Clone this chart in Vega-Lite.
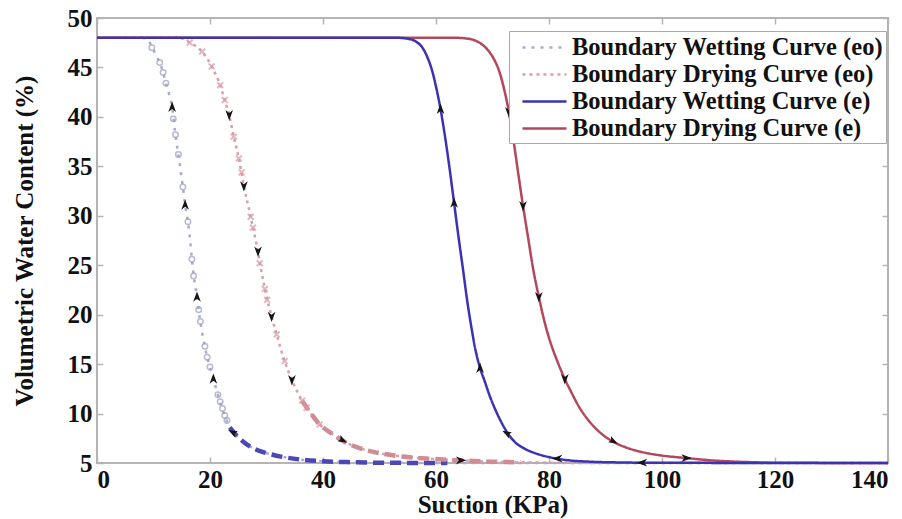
{
  "$schema": "https://vega.github.io/schema/vega-lite/v6.json",
  "width": 791,
  "height": 445,
  "autosize": {"type": "none"},
  "padding": {"left": 97, "top": 18, "right": 14, "bottom": 56},
  "background": "white",
  "config": {
    "view": {"stroke": "#b4b4b4", "strokeWidth": 2},
    "font": "Liberation Serif",
    "axis": {
      "labelFont": "Liberation Serif", "labelFontWeight": "bold", "labelFontSize": 25, "labelColor": "#111111",
      "titleFont": "Liberation Serif", "titleFontWeight": "bold", "titleFontSize": 25, "titleColor": "#111111",
      "grid": false, "domain": false, "tickColor": "#b4b4b4", "tickSize": -6, "tickWidth": 1.5
    },
    "legend": {
      "orient": "none", "legendX": 412, "legendY": 13, "title": null,
      "labelFont": "Liberation Serif", "labelFontWeight": "bold", "labelFontSize": 24.5, "labelColor": "#111111",
      "labelLimit": 600, "strokeColor": "#aaaaaa", "fillColor": "white", "padding": 3, "rowPadding": 2,
      "symbolType": "M-1.8,0H1.8", "symbolSize": 600, "symbolOffset": 19, "labelOffset": 14
    }
  },
  "datasets": {
    "curves": [
      {"series": "Boundary Wetting Curve (eo)", "x": 0, "y": 48},
      {"series": "Boundary Wetting Curve (eo)", "x": 8, "y": 48},
      {"series": "Boundary Wetting Curve (eo)", "x": 9, "y": 47.8},
      {"series": "Boundary Wetting Curve (eo)", "x": 9.7, "y": 47.1},
      {"series": "Boundary Wetting Curve (eo)", "x": 10.4, "y": 46.3},
      {"series": "Boundary Wetting Curve (eo)", "x": 11.1, "y": 45.5},
      {"series": "Boundary Wetting Curve (eo)", "x": 11.7, "y": 44.5},
      {"series": "Boundary Wetting Curve (eo)", "x": 12.2, "y": 43.4},
      {"series": "Boundary Wetting Curve (eo)", "x": 12.8, "y": 42.2},
      {"series": "Boundary Wetting Curve (eo)", "x": 13.3, "y": 41},
      {"series": "Boundary Wetting Curve (eo)", "x": 13.8, "y": 38.6},
      {"series": "Boundary Wetting Curve (eo)", "x": 14.3, "y": 36.5},
      {"series": "Boundary Wetting Curve (eo)", "x": 14.8, "y": 34.6},
      {"series": "Boundary Wetting Curve (eo)", "x": 15.2, "y": 32.9},
      {"series": "Boundary Wetting Curve (eo)", "x": 15.6, "y": 31.1},
      {"series": "Boundary Wetting Curve (eo)", "x": 16.1, "y": 29.4},
      {"series": "Boundary Wetting Curve (eo)", "x": 16.5, "y": 27.4},
      {"series": "Boundary Wetting Curve (eo)", "x": 16.8, "y": 25.6},
      {"series": "Boundary Wetting Curve (eo)", "x": 17.2, "y": 23.6},
      {"series": "Boundary Wetting Curve (eo)", "x": 17.7, "y": 21.8},
      {"series": "Boundary Wetting Curve (eo)", "x": 18.2, "y": 19.6},
      {"series": "Boundary Wetting Curve (eo)", "x": 18.7, "y": 17.9},
      {"series": "Boundary Wetting Curve (eo)", "x": 19.1, "y": 16.8},
      {"series": "Boundary Wetting Curve (eo)", "x": 19.5, "y": 15.7},
      {"series": "Boundary Wetting Curve (eo)", "x": 20, "y": 14.7},
      {"series": "Boundary Wetting Curve (eo)", "x": 20.6, "y": 13.5},
      {"series": "Boundary Wetting Curve (eo)", "x": 21.4, "y": 11.9},
      {"series": "Boundary Wetting Curve (eo)", "x": 22.1, "y": 10.6},
      {"series": "Boundary Wetting Curve (eo)", "x": 22.8, "y": 9.5},
      {"series": "Boundary Wetting Curve (eo)", "x": 23.5, "y": 8.6},
      {"series": "Boundary Wetting Curve (eo)", "x": 24.5, "y": 7.9},
      {"series": "Boundary Wetting Curve (eo)", "x": 26, "y": 7.1},
      {"series": "Boundary Wetting Curve (eo)", "x": 28, "y": 6.4},
      {"series": "Boundary Wetting Curve (eo)", "x": 30, "y": 6.0},
      {"series": "Boundary Wetting Curve (eo)", "x": 33, "y": 5.6},
      {"series": "Boundary Wetting Curve (eo)", "x": 36, "y": 5.35},
      {"series": "Boundary Wetting Curve (eo)", "x": 40, "y": 5.18},
      {"series": "Boundary Wetting Curve (eo)", "x": 45, "y": 5.08},
      {"series": "Boundary Wetting Curve (eo)", "x": 50, "y": 5.03},
      {"series": "Boundary Wetting Curve (eo)", "x": 62, "y": 5.0},
      {"series": "Boundary Wetting Curve (eo)", "x": 140, "y": 5.0},
      {"series": "Boundary Drying Curve (eo)", "x": 0, "y": 48},
      {"series": "Boundary Drying Curve (eo)", "x": 14.5, "y": 48},
      {"series": "Boundary Drying Curve (eo)", "x": 16.4, "y": 47.5},
      {"series": "Boundary Drying Curve (eo)", "x": 18.6, "y": 46.6},
      {"series": "Boundary Drying Curve (eo)", "x": 20.3, "y": 45.1},
      {"series": "Boundary Drying Curve (eo)", "x": 21.8, "y": 43.2},
      {"series": "Boundary Drying Curve (eo)", "x": 22.6, "y": 41.7},
      {"series": "Boundary Drying Curve (eo)", "x": 23.4, "y": 40.2},
      {"series": "Boundary Drying Curve (eo)", "x": 24.2, "y": 38},
      {"series": "Boundary Drying Curve (eo)", "x": 25.1, "y": 35.8},
      {"series": "Boundary Drying Curve (eo)", "x": 26, "y": 33},
      {"series": "Boundary Drying Curve (eo)", "x": 27.2, "y": 29.9},
      {"series": "Boundary Drying Curve (eo)", "x": 28.2, "y": 27.2},
      {"series": "Boundary Drying Curve (eo)", "x": 29.1, "y": 24.4},
      {"series": "Boundary Drying Curve (eo)", "x": 29.9, "y": 22.1},
      {"series": "Boundary Drying Curve (eo)", "x": 30.9, "y": 19.8},
      {"series": "Boundary Drying Curve (eo)", "x": 31.8, "y": 18},
      {"series": "Boundary Drying Curve (eo)", "x": 33.2, "y": 15.3},
      {"series": "Boundary Drying Curve (eo)", "x": 34.5, "y": 13.4},
      {"series": "Boundary Drying Curve (eo)", "x": 36.3, "y": 11.3},
      {"series": "Boundary Drying Curve (eo)", "x": 37.5, "y": 10.3},
      {"series": "Boundary Drying Curve (eo)", "x": 39.4, "y": 8.9},
      {"series": "Boundary Drying Curve (eo)", "x": 41.5, "y": 8.0},
      {"series": "Boundary Drying Curve (eo)", "x": 43.3, "y": 7.3},
      {"series": "Boundary Drying Curve (eo)", "x": 46, "y": 6.6},
      {"series": "Boundary Drying Curve (eo)", "x": 50, "y": 6.0},
      {"series": "Boundary Drying Curve (eo)", "x": 55, "y": 5.6},
      {"series": "Boundary Drying Curve (eo)", "x": 60, "y": 5.4},
      {"series": "Boundary Drying Curve (eo)", "x": 65, "y": 5.25},
      {"series": "Boundary Drying Curve (eo)", "x": 70, "y": 5.13},
      {"series": "Boundary Drying Curve (eo)", "x": 75, "y": 5.07},
      {"series": "Boundary Drying Curve (eo)", "x": 90, "y": 5.0},
      {"series": "Boundary Drying Curve (eo)", "x": 140, "y": 5.0},
      {"series": "Boundary Drying Curve (e)", "x": 0, "y": 48},
      {"series": "Boundary Drying Curve (e)", "x": 63.5, "y": 48},
      {"series": "Boundary Drying Curve (e)", "x": 65.8, "y": 47.9},
      {"series": "Boundary Drying Curve (e)", "x": 67.4, "y": 47.6},
      {"series": "Boundary Drying Curve (e)", "x": 68.8, "y": 47.0},
      {"series": "Boundary Drying Curve (e)", "x": 70.1, "y": 46.0},
      {"series": "Boundary Drying Curve (e)", "x": 71.2, "y": 44.6},
      {"series": "Boundary Drying Curve (e)", "x": 72.1, "y": 42.7},
      {"series": "Boundary Drying Curve (e)", "x": 72.9, "y": 40.5},
      {"series": "Boundary Drying Curve (e)", "x": 73.7, "y": 37.7},
      {"series": "Boundary Drying Curve (e)", "x": 74.5, "y": 34.5},
      {"series": "Boundary Drying Curve (e)", "x": 75.4, "y": 31},
      {"series": "Boundary Drying Curve (e)", "x": 76.3, "y": 27.8},
      {"series": "Boundary Drying Curve (e)", "x": 77.2, "y": 24.6},
      {"series": "Boundary Drying Curve (e)", "x": 78.2, "y": 21.8},
      {"series": "Boundary Drying Curve (e)", "x": 79.2, "y": 19.3},
      {"series": "Boundary Drying Curve (e)", "x": 80.2, "y": 17.3},
      {"series": "Boundary Drying Curve (e)", "x": 81.2, "y": 15.7},
      {"series": "Boundary Drying Curve (e)", "x": 82.8, "y": 13.5},
      {"series": "Boundary Drying Curve (e)", "x": 84, "y": 12.1},
      {"series": "Boundary Drying Curve (e)", "x": 85.4, "y": 10.6},
      {"series": "Boundary Drying Curve (e)", "x": 87, "y": 9.3},
      {"series": "Boundary Drying Curve (e)", "x": 89, "y": 8.1},
      {"series": "Boundary Drying Curve (e)", "x": 91.2, "y": 7.2},
      {"series": "Boundary Drying Curve (e)", "x": 93.5, "y": 6.6},
      {"series": "Boundary Drying Curve (e)", "x": 96.5, "y": 6.1},
      {"series": "Boundary Drying Curve (e)", "x": 100, "y": 5.75},
      {"series": "Boundary Drying Curve (e)", "x": 104.3, "y": 5.5},
      {"series": "Boundary Drying Curve (e)", "x": 108, "y": 5.3},
      {"series": "Boundary Drying Curve (e)", "x": 112, "y": 5.16},
      {"series": "Boundary Drying Curve (e)", "x": 116, "y": 5.08},
      {"series": "Boundary Drying Curve (e)", "x": 120, "y": 5.03},
      {"series": "Boundary Drying Curve (e)", "x": 140, "y": 5.0},
      {"series": "Boundary Wetting Curve (e)", "x": 0, "y": 48},
      {"series": "Boundary Wetting Curve (e)", "x": 53, "y": 48},
      {"series": "Boundary Wetting Curve (e)", "x": 55, "y": 47.9},
      {"series": "Boundary Wetting Curve (e)", "x": 56.5, "y": 47.6},
      {"series": "Boundary Wetting Curve (e)", "x": 57.6, "y": 47.0},
      {"series": "Boundary Wetting Curve (e)", "x": 58.5, "y": 46.0},
      {"series": "Boundary Wetting Curve (e)", "x": 59.3, "y": 44.7},
      {"series": "Boundary Wetting Curve (e)", "x": 60.1, "y": 42.8},
      {"series": "Boundary Wetting Curve (e)", "x": 60.8, "y": 40.8},
      {"series": "Boundary Wetting Curve (e)", "x": 61.6, "y": 38},
      {"series": "Boundary Wetting Curve (e)", "x": 62.4, "y": 34.8},
      {"series": "Boundary Wetting Curve (e)", "x": 63.2, "y": 31.3},
      {"series": "Boundary Wetting Curve (e)", "x": 64.0, "y": 27.8},
      {"series": "Boundary Wetting Curve (e)", "x": 64.8, "y": 24.5},
      {"series": "Boundary Wetting Curve (e)", "x": 65.5, "y": 21.5},
      {"series": "Boundary Wetting Curve (e)", "x": 66.3, "y": 18.6},
      {"series": "Boundary Wetting Curve (e)", "x": 67, "y": 16.4},
      {"series": "Boundary Wetting Curve (e)", "x": 67.8, "y": 14.6},
      {"series": "Boundary Wetting Curve (e)", "x": 68.6, "y": 13.3},
      {"series": "Boundary Wetting Curve (e)", "x": 69.5, "y": 11.8},
      {"series": "Boundary Wetting Curve (e)", "x": 70.5, "y": 10.4},
      {"series": "Boundary Wetting Curve (e)", "x": 71.5, "y": 9.2},
      {"series": "Boundary Wetting Curve (e)", "x": 72.7, "y": 8.0},
      {"series": "Boundary Wetting Curve (e)", "x": 74, "y": 7.1},
      {"series": "Boundary Wetting Curve (e)", "x": 75.5, "y": 6.5},
      {"series": "Boundary Wetting Curve (e)", "x": 77.5, "y": 6.0},
      {"series": "Boundary Wetting Curve (e)", "x": 80, "y": 5.6},
      {"series": "Boundary Wetting Curve (e)", "x": 83, "y": 5.3},
      {"series": "Boundary Wetting Curve (e)", "x": 87, "y": 5.14},
      {"series": "Boundary Wetting Curve (e)", "x": 92, "y": 5.06},
      {"series": "Boundary Wetting Curve (e)", "x": 100, "y": 5.02},
      {"series": "Boundary Wetting Curve (e)", "x": 140, "y": 5.0}
    ],
    "markers": [
      {"series": "Boundary Wetting Curve (eo)", "x": 9.7, "y": 47.0},
      {"series": "Boundary Wetting Curve (eo)", "x": 11.1, "y": 45.5},
      {"series": "Boundary Wetting Curve (eo)", "x": 11.7, "y": 44.5},
      {"series": "Boundary Wetting Curve (eo)", "x": 12.2, "y": 43.4},
      {"series": "Boundary Wetting Curve (eo)", "x": 13.5, "y": 39.8},
      {"series": "Boundary Wetting Curve (eo)", "x": 13.9, "y": 38.2},
      {"series": "Boundary Wetting Curve (eo)", "x": 14.4, "y": 36.2},
      {"series": "Boundary Wetting Curve (eo)", "x": 15.2, "y": 32.9},
      {"series": "Boundary Wetting Curve (eo)", "x": 16.1, "y": 29.4},
      {"series": "Boundary Wetting Curve (eo)", "x": 16.8, "y": 25.6},
      {"series": "Boundary Wetting Curve (eo)", "x": 17.1, "y": 23.9},
      {"series": "Boundary Wetting Curve (eo)", "x": 18.0, "y": 20.5},
      {"series": "Boundary Wetting Curve (eo)", "x": 18.3, "y": 19.3},
      {"series": "Boundary Wetting Curve (eo)", "x": 19.1, "y": 16.8},
      {"series": "Boundary Wetting Curve (eo)", "x": 19.5, "y": 15.7},
      {"series": "Boundary Wetting Curve (eo)", "x": 20.0, "y": 14.7},
      {"series": "Boundary Wetting Curve (eo)", "x": 21.4, "y": 11.9},
      {"series": "Boundary Wetting Curve (eo)", "x": 21.8, "y": 11.2},
      {"series": "Boundary Wetting Curve (eo)", "x": 22.2, "y": 10.5},
      {"series": "Boundary Wetting Curve (eo)", "x": 22.6, "y": 9.8},
      {"series": "Boundary Wetting Curve (eo)", "x": 23.0, "y": 9.3},
      {"series": "Boundary Drying Curve (eo)", "x": 16.4, "y": 47.5},
      {"series": "Boundary Drying Curve (eo)", "x": 18.6, "y": 46.6},
      {"series": "Boundary Drying Curve (eo)", "x": 20.3, "y": 45.1},
      {"series": "Boundary Drying Curve (eo)", "x": 21.8, "y": 43.2},
      {"series": "Boundary Drying Curve (eo)", "x": 22.6, "y": 41.7},
      {"series": "Boundary Drying Curve (eo)", "x": 24.2, "y": 38},
      {"series": "Boundary Drying Curve (eo)", "x": 25.1, "y": 35.8},
      {"series": "Boundary Drying Curve (eo)", "x": 25.6, "y": 34.4},
      {"series": "Boundary Drying Curve (eo)", "x": 27.2, "y": 29.9},
      {"series": "Boundary Drying Curve (eo)", "x": 27.6, "y": 28.8},
      {"series": "Boundary Drying Curve (eo)", "x": 28.8, "y": 25.2},
      {"series": "Boundary Drying Curve (eo)", "x": 29.7, "y": 22.6},
      {"series": "Boundary Drying Curve (eo)", "x": 30.1, "y": 21.5},
      {"series": "Boundary Drying Curve (eo)", "x": 31.8, "y": 18},
      {"series": "Boundary Drying Curve (eo)", "x": 33.2, "y": 15.3},
      {"series": "Boundary Drying Curve (eo)", "x": 36.3, "y": 11.3},
      {"series": "Boundary Drying Curve (eo)", "x": 37.1, "y": 10.6},
      {"series": "Boundary Drying Curve (eo)", "x": 39.4, "y": 8.9}
    ],
    "arrows": [
      {"x": 13.3, "y": 41, "dir": "up"},
      {"x": 15.6, "y": 31.1, "dir": "up"},
      {"x": 17.7, "y": 21.8, "dir": "up"},
      {"x": 20.6, "y": 13.5, "dir": "up"},
      {"x": 24.2, "y": 8.1, "dir": "upleft"},
      {"x": 23.4, "y": 40.2, "dir": "down"},
      {"x": 26, "y": 33, "dir": "down"},
      {"x": 28.5, "y": 26.4, "dir": "down"},
      {"x": 30.9, "y": 19.8, "dir": "down"},
      {"x": 34.5, "y": 13.4, "dir": "down"},
      {"x": 43.3, "y": 7.3, "dir": "downright"},
      {"x": 64.4, "y": 5.27, "dir": "right"},
      {"x": 60.8, "y": 40.8, "dir": "up"},
      {"x": 63.2, "y": 31.3, "dir": "up"},
      {"x": 67.8, "y": 14.6, "dir": "up"},
      {"x": 72.7, "y": 8.0, "dir": "upleft"},
      {"x": 81.5, "y": 5.45, "dir": "left"},
      {"x": 96.5, "y": 5.03, "dir": "left"},
      {"x": 72.9, "y": 40.5, "dir": "down"},
      {"x": 75.4, "y": 31, "dir": "down"},
      {"x": 78.2, "y": 21.8, "dir": "down"},
      {"x": 82.8, "y": 13.5, "dir": "down"},
      {"x": 91.2, "y": 7.2, "dir": "downright"},
      {"x": 104.3, "y": 5.5, "dir": "right"}
    ]
  },
  "layer": [
    {
      "data": {"name": "curves"},
      "mark": {"type": "line", "interpolate": "monotone", "clip": false},
      "encoding": {
        "x": {"field": "x", "type": "quantitative", "scale": {"domain": [0, 140], "nice": false, "zero": false},
              "axis": {"orient": "bottom", "values": [0, 20, 40, 60, 80, 100, 120, 140], "title": "Suction (KPa)", "labelPadding": 10, "titlePadding": 0}},
        "y": {"field": "y", "type": "quantitative", "scale": {"domain": [5, 50], "nice": false, "zero": false},
              "axis": {"orient": "left", "values": [5, 10, 15, 20, 25, 30, 35, 40, 45, 50], "title": "Volumetric Water Content (%)", "labelPadding": 11, "titlePadding": 30}},
        "color": {"field": "series", "type": "nominal",
                  "scale": {"domain": ["Boundary Wetting Curve (eo)", "Boundary Drying Curve (eo)", "Boundary Wetting Curve (e)", "Boundary Drying Curve (e)"],
                            "range": ["#a8abcf", "#d8a0a9", "#3b33b2", "#b3475b"]}},
        "strokeDash": {"field": "series", "type": "nominal",
                  "scale": {"domain": ["Boundary Wetting Curve (eo)", "Boundary Drying Curve (eo)", "Boundary Wetting Curve (e)", "Boundary Drying Curve (e)"],
                            "range": [[3, 6], [3, 4], [1, 0], [1, 0]]}},
        "strokeWidth": {"field": "series", "type": "nominal",
                  "scale": {"domain": ["Boundary Wetting Curve (eo)", "Boundary Drying Curve (eo)", "Boundary Wetting Curve (e)", "Boundary Drying Curve (e)"],
                            "range": [2.5, 2.5, 3, 3]}},
        "order": {"field": "x", "type": "quantitative"}
      }
    },
    {
      "data": {"name": "curves"},
      "transform": [{"filter": "datum.series === 'Boundary Wetting Curve (eo)' && datum.x >= 23.5 && datum.x <= 62"}],
      "mark": {"type": "line", "interpolate": "monotone", "color": "#4c47b8", "strokeWidth": 4.5, "strokeDash": [11, 6], "clip": false},
      "encoding": {
        "x": {"field": "x", "type": "quantitative", "axis": null},
        "y": {"field": "y", "type": "quantitative", "axis": null}
      }
    },
    {
      "data": {"name": "curves"},
      "transform": [{"filter": "datum.series === 'Boundary Drying Curve (eo)' && datum.x >= 36 && datum.x <= 75"}],
      "mark": {"type": "line", "interpolate": "monotone", "color": "#cf8c95", "strokeWidth": 4.5, "strokeDash": [11, 6], "clip": false},
      "encoding": {
        "x": {"field": "x", "type": "quantitative", "axis": null},
        "y": {"field": "y", "type": "quantitative", "axis": null}
      }
    },
    {
      "data": {"name": "markers"},
      "transform": [{"filter": "datum.series === 'Boundary Wetting Curve (eo)'"}],
      "mark": {"type": "point", "shape": "circle", "filled": false, "color": "#9a9dbf", "size": 30, "strokeWidth": 1.5},
      "encoding": {
        "x": {"field": "x", "type": "quantitative", "axis": null},
        "y": {"field": "y", "type": "quantitative", "axis": null}
      }
    },
    {
      "data": {"name": "markers"},
      "transform": [{"filter": "datum.series === 'Boundary Drying Curve (eo)'"}],
      "mark": {"type": "point", "shape": "M-1,-1L1,1M-1,1L1,-1", "filled": false, "color": "#d69aa3", "size": 34, "strokeWidth": 2},
      "encoding": {
        "x": {"field": "x", "type": "quantitative", "axis": null},
        "y": {"field": "y", "type": "quantitative", "axis": null}
      }
    },
    {
      "data": {"name": "arrows"},
      "mark": {"type": "point", "filled": true, "color": "#151515", "size": 120, "opacity": 1},
      "encoding": {
        "x": {"field": "x", "type": "quantitative",
              "axis": {"orient": "top", "values": [0, 20, 40, 60, 80, 100, 120, 140], "labels": false, "title": null}},
        "y": {"field": "y", "type": "quantitative",
              "axis": {"orient": "right", "values": [5, 10, 15, 20, 25, 30, 35, 40, 45, 50], "labels": false, "title": null}},
        "shape": {"field": "dir", "type": "nominal", "legend": null,
                  "scale": {"domain": ["up", "down", "upleft", "downright", "left", "right"],
                            "range": ["M0,-1L0.7,0.9L0,0.35L-0.7,0.9Z", "M0,1L0.7,-0.9L0,-0.35L-0.7,-0.9Z", "M-1,-0.45L0.75,-0.2L0.2,0.2L0.25,0.95Z", "M1,0.45L-0.75,0.2L-0.2,-0.2L-0.25,-0.95Z", "M-1,0L0.9,-0.7L0.35,0L0.9,0.7Z", "M1,0L-0.9,-0.7L-0.35,0L-0.9,0.7Z"]}}
      }
    }
  ],
  "resolve": {"axis": {"x": "independent", "y": "independent"}}
}
